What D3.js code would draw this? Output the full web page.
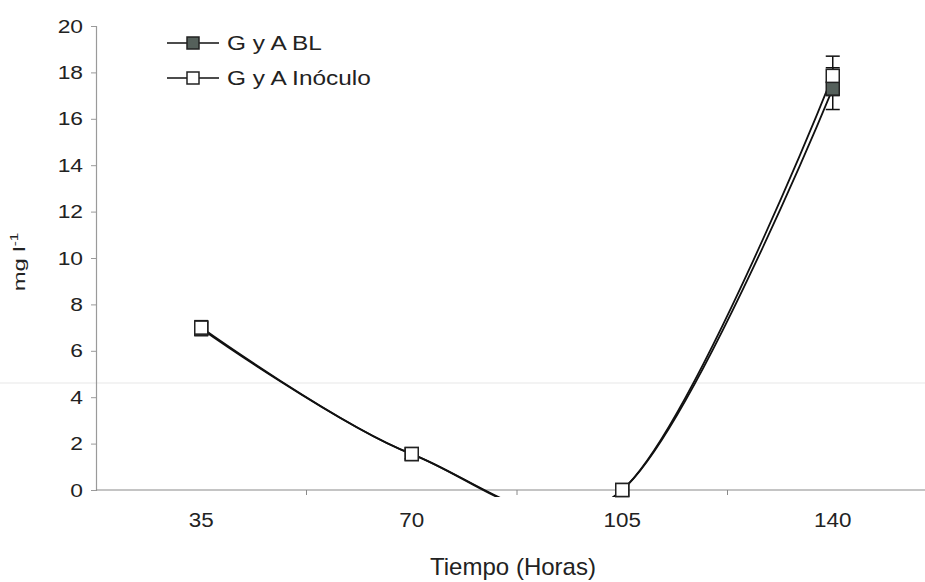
<!DOCTYPE html>
<html>
<head>
<meta charset="utf-8">
<script src="https://cdn.jsdelivr.net/npm/d3@7"></script>
<style>
  html, body { margin: 0; padding: 0; background: #fff; }
  svg { display: block; }
  text { font-family: "Liberation Sans", Arial, sans-serif; fill: #222; }
</style>
</head>
<body>
<svg id="chart" width="925" height="582"></svg>
<script>
// Time points (hours) on the category axis
const categories = ["35", "70", "105", "140"];
// Fats and oils concentration (mg l-1)
const valuesBL      = [6.95, 1.55, 0.0, 17.3];
const valuesInoculo = [7.0,  1.55, 0.0, 17.85];
// Standard error for each point
const errBL      = [0.3, 0.2, 0.0, 0.9];
const errInoculo = [0.3, 0.2, 0.0, 0.85];
// Y axis ticks
const yTicks = [0, 2, 4, 6, 8, 10, 12, 14, 16, 18, 20];

const series = [
  { name: "G y A BL",      values: valuesBL,      err: errBL,      fill: "#55605b" },
  { name: "G y A Inóculo", values: valuesInoculo, err: errInoculo, fill: "#ffffff" }
];

const svg = d3.select("#chart");
const plotLeft = 96, plotRight = 938, plotTop = 26, plotBottom = 490;

const x = d3.scaleBand().domain(categories).range([plotLeft, plotRight]).padding(0);
const y = d3.scaleLinear().domain([0, 20]).range([plotBottom, plotTop]);
const cx = c => x(c) + x.bandwidth() / 2;

// widen a text run horizontally by a factor (wide, scanned-looking lettering)
function widen(sel, factor) {
  sel.each(function () {
    const w = this.getComputedTextLength();
    d3.select(this).attr("textLength", w * factor).attr("lengthAdjust", "spacingAndGlyphs");
  });
}

// faint scan line across the page
svg.append("line")
  .attr("x1", 0).attr("x2", 925).attr("y1", 383).attr("y2", 383)
  .attr("stroke", "#efefef").attr("stroke-width", 1.5);

// plot area clip (the smoothed curves may overshoot below zero)
svg.append("clipPath").attr("id", "plotClip")
  .append("rect").attr("x", plotLeft).attr("y", plotTop - 10)
  .attr("width", plotRight - plotLeft).attr("height", plotBottom - plotTop + 17);

// Y axis
const yAxis = svg.append("g")
  .attr("transform", `translate(${plotLeft},0)`)
  .call(d3.axisLeft(y).tickValues(yTicks).tickSize(5).tickPadding(8));
yAxis.select(".domain").attr("stroke", "#9a9a9a").attr("stroke-width", 1.2);
yAxis.selectAll(".tick line").attr("stroke", "#9a9a9a");
yAxis.selectAll(".tick text")
  .style("font-size", "19px")
  .style("font-family", "'Liberation Sans', Arial, sans-serif").attr("fill", "#222");
widen(yAxis.selectAll(".tick text"), 1.2);

// X axis: ticks between categories, labels centred in bands
const xAxis = svg.append("g").attr("transform", `translate(0,${plotBottom})`);
xAxis.append("line").attr("x1", plotLeft).attr("x2", plotRight)
  .attr("stroke", "#8a8a8a").attr("stroke-width", 1.2);
xAxis.selectAll("line.tk").data(categories.slice(1)).join("line")
  .attr("class", "tk")
  .attr("x1", d => x(d)).attr("x2", d => x(d))
  .attr("y1", 0).attr("y2", 5).attr("stroke", "#8a8a8a");
const xLabels = xAxis.selectAll("text.lbl").data(categories).join("text")
  .attr("class", "lbl")
  .attr("x", d => cx(d)).attr("y", 37)
  .attr("text-anchor", "middle")
  .style("font-size", "20px")
  .text(d => d);
widen(xLabels, 1.12);

// Axis titles
const xTitle = svg.append("text")
  .attr("x", 513).attr("y", 575).attr("text-anchor", "middle")
  .style("font-family", "'Liberation Sans Narrow', 'Liberation Sans', Arial, sans-serif")
  .style("font-size", "24px")
  .text("Tiempo (Horas)");
widen(xTitle, 166 / xTitle.node().getComputedTextLength());

const yTitle = svg.append("text")
  .attr("transform", "translate(25,262) rotate(-90)")
  .attr("text-anchor", "middle")
  .style("font-size", "17px");
yTitle.append("tspan").text("mg l");
yTitle.append("tspan").attr("dy", -7).style("font-size", "11px").text("-1");
widen(yTitle, 1.4);

// Smoothed lines
const line = d3.line()
  .x((d, i) => cx(categories[i]))
  .y(d => y(d))
  .curve(d3.curveCardinal.tension(0));

const plot = svg.append("g").attr("clip-path", "url(#plotClip)");
series.forEach(s => {
  plot.append("path")
    .datum(s.values)
    .attr("d", line)
    .attr("fill", "none")
    .attr("stroke", "#111")
    .attr("stroke-width", 1.8);
});

// Error bars
const capW = 14;
series.forEach(s => {
  const g = svg.append("g").attr("stroke", "#111").attr("stroke-width", 1.5);
  s.values.forEach((v, i) => {
    if (!s.err[i]) return;
    const px = cx(categories[i]);
    const y1 = y(v - s.err[i]), y2 = y(v + s.err[i]);
    g.append("line").attr("x1", px).attr("x2", px).attr("y1", y1).attr("y2", y2);
    g.append("line").attr("x1", px - capW / 2).attr("x2", px + capW / 2).attr("y1", y1).attr("y2", y1);
    g.append("line").attr("x1", px - capW / 2).attr("x2", px + capW / 2).attr("y1", y2).attr("y2", y2);
  });
});

// Markers
const ms = 13;
series.forEach(s => {
  svg.append("g").selectAll("rect").data(s.values).join("rect")
    .attr("x", (d, i) => cx(categories[i]) - ms / 2)
    .attr("y", d => y(d) - ms / 2)
    .attr("width", ms).attr("height", ms)
    .attr("fill", s.fill).attr("stroke", "#222").attr("stroke-width", 1.5);
});

// Legend
const legend = svg.append("g");
series.forEach((s, i) => {
  const ly = 43 + i * 35;
  legend.append("line").attr("x1", 167).attr("x2", 219).attr("y1", ly).attr("y2", ly)
    .attr("stroke", "#111").attr("stroke-width", 1.5);
  legend.append("rect").attr("x", 193 - 6).attr("y", ly - 6).attr("width", 12).attr("height", 12)
    .attr("fill", s.fill).attr("stroke", "#222").attr("stroke-width", 1.5);
  const t = legend.append("text").attr("x", 227).attr("y", ly + 7)
    .style("font-size", "20px")
    .text(s.name);
  widen(t, 1.22);
});
</script>
</body>
</html>
